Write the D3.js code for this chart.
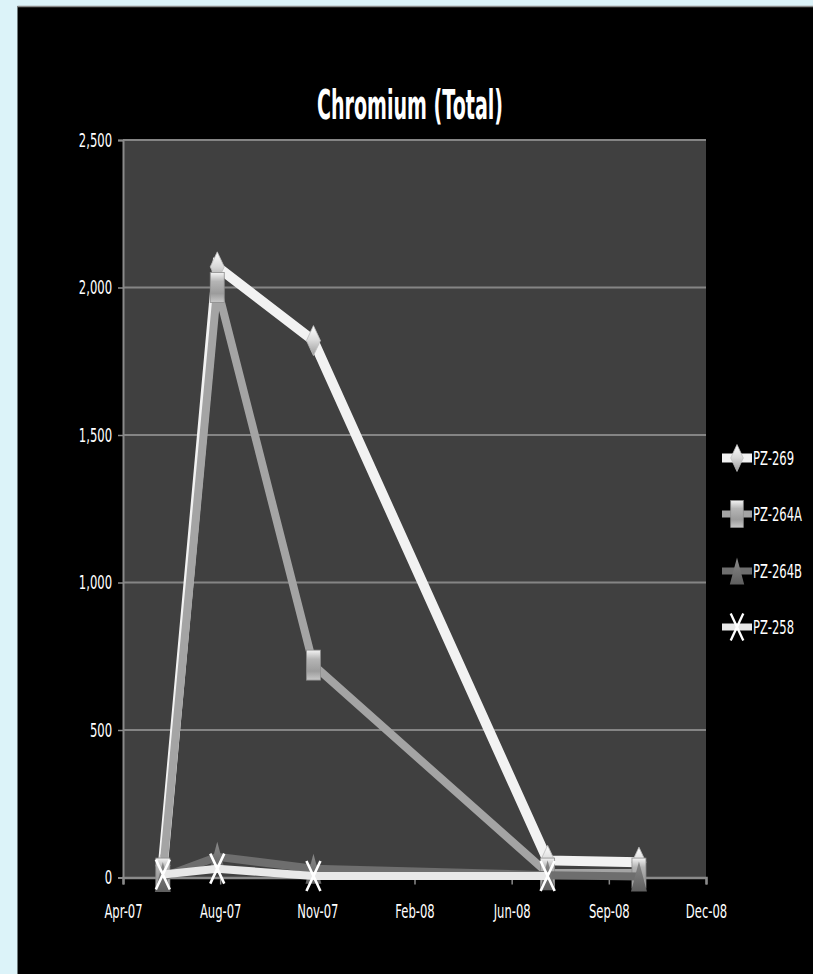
<!DOCTYPE html>
<html><head><meta charset="utf-8">
<script src="https://cdn.jsdelivr.net/npm/d3@7"></script>
<style>
html,body{margin:0;padding:0;background:#dcf3f9;}
svg{display:block;}
text{font-family:"DejaVu Sans",sans-serif;fill:#fff;}
</style></head><body>
<svg id="c" width="813" height="974"></svg>
<script>
const title = "Chromium (Total)";
const sampleDates = ["2007-06-10","2007-08-05","2007-11-12","2008-07-10","2008-10-12"];
const seriesNames = ["PZ-269","PZ-264A","PZ-264B","PZ-258"];
const pz269  = [40, 2070, 1820, 58, 52];
const pz264A = [15, 2000, 720, 15, 15];
const pz264B = [2, 70, 30, 8, 3];
const pz258  = [10, 30, 5, 5];
const yTicks = [0, 500, 1000, 1500, 2000, 2500];
const xTickDates = ["2007-04-30","2007-08-08","2007-11-16","2008-02-24","2008-06-03","2008-09-11","2008-12-20"];

const svg = d3.select("#c");
const parse = d3.utcParse("%Y-%m-%d");
const W=813,H=974;
const plot = {l:123, r:706, t:140, b:877.5};

// black panel
svg.append("rect").attr("x",17.5).attr("y",6).attr("width",W-17.5).attr("height",H-6).attr("fill","#000");
svg.append("line").attr("x1",17.5).attr("x2",W).attr("y1",6.5).attr("y2",6.5).attr("stroke","#8a8a8a").attr("stroke-width",1.5);

const x = d3.scaleUtc().domain([parse(xTickDates[0]), parse(xTickDates[xTickDates.length-1])]).range([plot.l, plot.r]);
const y = d3.scaleLinear().domain([0,2500]).range([plot.b, plot.t]);

// plot area
svg.append("rect").attr("x",plot.l).attr("y",plot.t).attr("width",plot.r-plot.l).attr("height",plot.b-plot.t).attr("fill","#404040");

// gridlines
svg.append("g").selectAll("line").data(yTicks.filter(d=>d>0)).join("line")
  .attr("x1",plot.l).attr("x2",plot.r).attr("y1",d=>y(d)).attr("y2",d=>y(d))
  .attr("stroke","#858585").attr("stroke-width",2);

// y axis
const yAxis = d3.axisLeft(y).tickValues(yTicks).tickSize(5).tickPadding(6).tickFormat(d3.format(","));
const gy = svg.append("g").attr("transform",`translate(${plot.l},0)`).call(yAxis);
gy.select(".domain").attr("stroke","#8a8a8a").attr("stroke-width",2);
gy.selectAll(".tick line").attr("stroke","#8a8a8a").attr("stroke-width",1.5);
gy.selectAll(".tick text").attr("font-size",20).attr("fill","#fff").style("font-family",'"DejaVu Sans",sans-serif').attr("class","cmp");

// x axis
const xAxis = d3.axisBottom(x).tickValues(xTickDates.map(parse)).tickSize(7).tickPadding(19).tickFormat(d3.utcFormat("%b-%y"));
const gx = svg.append("g").attr("transform",`translate(0,${plot.b})`).call(xAxis);
gx.select(".domain").attr("stroke","#8a8a8a").attr("stroke-width",2.5);
gx.selectAll(".tick line").attr("stroke","#8a8a8a").attr("stroke-width",1.5);
gx.selectAll(".tick text").attr("font-size",20).attr("fill","#fff").style("font-family",'"DejaVu Sans",sans-serif').attr("class","cmp");

// defs gradients
const defs = svg.append("defs");
function grad(id, stops){
  const g = defs.append("linearGradient").attr("id",id).attr("x1",0).attr("y1",0).attr("x2",0).attr("y2",1);
  stops.forEach(s=>g.append("stop").attr("offset",s[0]).attr("stop-color",s[1]));
}
grad("gDiamond",[[0,"#ffffff"],[0.5,"#d8d8d8"],[1,"#9a9a9a"]]);
grad("gSquare",[[0,"#f4f4f4"],[0.3,"#b5b5b5"],[0.7,"#9c9c9c"],[1,"#c8c8c8"]]);
grad("gTri",[[0,"#8a8a8a"],[1,"#5e5e5e"]]);

const mw=7, mh=15;
const markers = {
  diamond: g=>g.append("path").attr("d",`M0,${-mh} L${mw},0 L0,${mh} L${-mw},0 Z`).attr("fill","url(#gDiamond)").attr("stroke","#bdbdbd").attr("stroke-width",0.8),
  square: g=>g.append("rect").attr("x",-mw).attr("y",-mh).attr("width",2*mw).attr("height",2*mh).attr("fill","url(#gSquare)").attr("stroke","#8c8c8c").attr("stroke-width",0.8),
  triangle: g=>g.append("path").attr("d",`M0,${-mh} L${mw+1},${mh} L${-mw-1},${mh} Z`).attr("fill","url(#gTri)"),
  x: g=>g.append("path").attr("d",`M${-mw},${-mh} L${mw},${mh} M${mw},${-mh} L${-mw},${mh}`).attr("stroke","#ffffff").attr("stroke-width",2.6).attr("fill","none")
};

const series = [
  {name:seriesNames[0], values:pz269, color:"#f2f2f2", width:10, marker:"diamond"},
  {name:seriesNames[1], values:pz264A, color:"#a4a4a4", width:8, marker:"square"},
  {name:seriesNames[2], values:pz264B, color:"#6e6e6e", width:8, marker:"triangle"},
  {name:seriesNames[3], values:pz258, color:"#e8e8e8", width:8, marker:"x"}
];

const line = d3.line().x(d=>x(d[0])).y(d=>y(d[1]));
series.forEach(s=>{
  const pts = s.values.map((v,i)=>[parse(sampleDates[i]), v]);
  svg.append("path").datum(pts).attr("d",line).attr("fill","none")
    .attr("stroke",s.color).attr("stroke-width",s.width).attr("stroke-linejoin","miter").attr("stroke-linecap","butt");
  pts.forEach(p=>{
    const g = svg.append("g").attr("transform",`translate(${x(p[0])},${y(p[1])})`);
    markers[s.marker](g);
  });
});

// title
svg.append("text").attr("x",410).attr("y",119).attr("text-anchor","middle")
  .attr("font-size",41).attr("font-weight","bold").attr("class","cmpT").text(title);

// legend
const legY = [458, 514, 571, 627];
series.forEach((s,i)=>{
  const g = svg.append("g").attr("transform",`translate(0,${legY[i]})`);
  g.append("line").attr("x1",722).attr("x2",752).attr("y1",0).attr("y2",0).attr("stroke",s.color).attr("stroke-width",s.width-1);
  const mg = g.append("g").attr("transform","translate(737,0) scale(0.9)");
  markers[s.marker](mg);
  g.append("text").attr("x",753).attr("y",7).attr("font-size",20).attr("class","cmp").text(s.name);
});

// condensed look (the reference uses a narrow face): horizontal scale about the anchor
function squeeze(sel, k){
  sel.each(function(){
    const t = d3.select(this);
    const xx = +t.attr("x") || 0;
    t.attr("x", xx / k).attr("transform", `scale(${k},1)`);
  });
}
squeeze(svg.selectAll("text.cmp"), 0.58);
squeeze(svg.selectAll("text.cmpT"), 0.465);
</script>
</body></html>
